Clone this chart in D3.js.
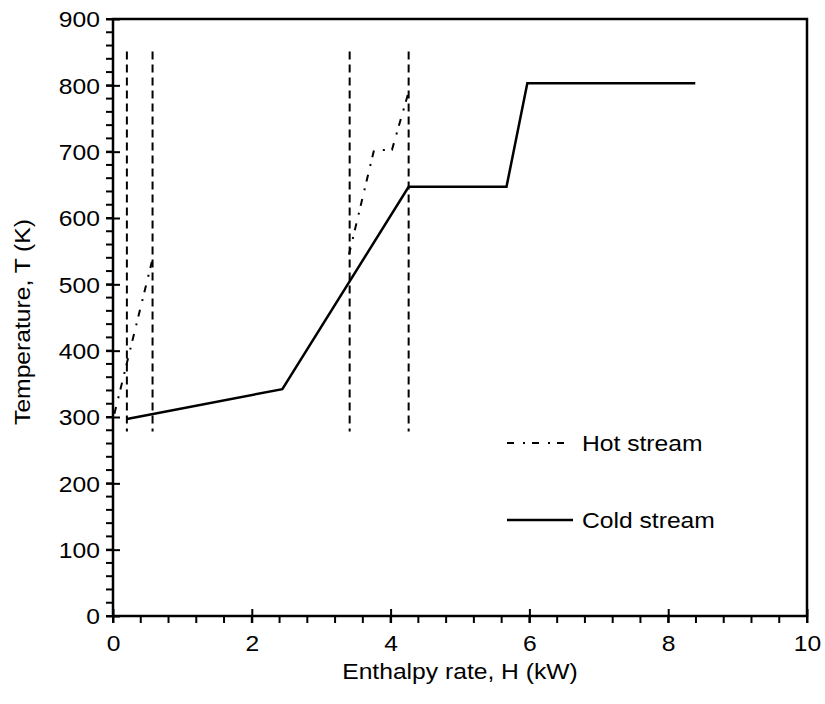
<!DOCTYPE html>
<html>
<head>
<meta charset="utf-8">
<script src="https://cdn.jsdelivr.net/npm/d3@7"></script>
<style>
  body { margin: 0; background: #fff; }
  svg { display: block; font-family: "Liberation Sans", Arial, sans-serif; }
</style>
</head>
<body>
<svg id="chart" width="825" height="704"></svg>
<script>
// ---- Data ----
const xTicks = [0, 2, 4, 6, 8, 10];
const yTicks = [0, 100, 200, 300, 400, 500, 600, 700, 800, 900];
const xLabel = "Enthalpy rate, H (kW)";
const yLabel = "Temperature, T (K)";

// Hot stream composite (two separate pieces)
const hotSeg1H = [0.02, 0.56];
const hotSeg1T = [305, 534];
const hotSeg2H = [3.40, 3.76, 4.02, 4.26];
const hotSeg2T = [545, 702, 703, 790];

// Cold stream composite
const coldH = [0.2, 2.44, 4.26, 5.67, 5.97, 8.39];
const coldT = [297, 342, 647, 647, 803, 803];

// Pinch / boundary verticals
const vlineH = [0.2, 0.57, 3.41, 4.26];
const vlineTop = 851;
const vlineBottom = 278;

const legendNames = ["Hot stream", "Cold stream"];

// ---- Layout ----
const svg = d3.select("#chart");
const mLeft = 113, mRight = 807, mTop = 19, mBottom = 616;
const FS = 22;      // font size
const STRETCH = 1.12;

const x = d3.scaleLinear().domain([0, 10]).range([mLeft, mRight]);
const y = d3.scaleLinear().domain([0, 900]).range([mBottom, mTop]);

const g = svg.append("g");

function stretch(sel) {
  sel.each(function () {
    const w = this.getComputedTextLength();
    d3.select(this).attr("textLength", w * STRETCH).attr("lengthAdjust", "spacingAndGlyphs");
  });
}

// minor ticks
const xMinor = d3.range(0, 10.0001, 0.4);
const yMinor = d3.range(0, 900.001, 20);

g.selectAll(".xminor").data(xMinor).enter().append("line")
  .attr("x1", d => x(d)).attr("x2", d => x(d))
  .attr("y1", mBottom).attr("y2", mBottom + 7)
  .attr("stroke", "#000").attr("stroke-width", 2);
g.selectAll(".yminor").data(yMinor).enter().append("line")
  .attr("x1", mLeft - 7).attr("x2", mLeft)
  .attr("y1", d => y(d)).attr("y2", d => y(d))
  .attr("stroke", "#000").attr("stroke-width", 2);

// major ticks via axes (crossing)
const xAxis = d3.axisBottom(x).tickValues(xTicks).tickSize(0).tickFormat(d3.format("d"));
const xa = g.append("g").attr("transform", `translate(0,${mBottom})`).call(xAxis);
xa.select(".domain").remove();
xa.selectAll("text").attr("font-size", FS).attr("font-family", "Liberation Sans, Arial, sans-serif")
  .attr("fill", "#000").attr("dy", null).attr("y", 35).call(stretch);
xa.selectAll(".tick").append("line").attr("y1", -7).attr("y2", 7).attr("stroke", "#000").attr("stroke-width", 2);

const yAxis = d3.axisLeft(y).tickValues(yTicks).tickSize(0).tickFormat(d3.format("d"));
const ya = g.append("g").attr("transform", `translate(${mLeft},0)`).call(yAxis);
ya.select(".domain").remove();
ya.selectAll("text").attr("font-size", FS).attr("font-family", "Liberation Sans, Arial, sans-serif")
  .attr("fill", "#000").attr("x", -13).attr("dy", "0.35em").call(stretch);
ya.selectAll(".tick").append("line").attr("x1", -7).attr("x2", 7).attr("stroke", "#000").attr("stroke-width", 2);

// frame
g.append("rect").attr("x", mLeft).attr("y", mTop).attr("width", mRight - mLeft).attr("height", mBottom - mTop)
  .attr("fill", "none").attr("stroke", "#000").attr("stroke-width", 2.5);

// vertical dashed lines
g.selectAll(".vline").data(vlineH).enter().append("line")
  .attr("x1", d => x(d)).attr("x2", d => x(d))
  .attr("y1", y(vlineTop)).attr("y2", y(vlineBottom))
  .attr("stroke", "#000").attr("stroke-width", 2).attr("stroke-dasharray", "8,5");

const line = d3.line().x(d => x(d[0])).y(d => y(d[1]));
const hotDash = "7,9,2,7";

// hot stream
[[hotSeg1H, hotSeg1T], [hotSeg2H, hotSeg2T]].forEach(([hs, ts]) => {
  g.append("path").datum(hs.map((h, i) => [h, ts[i]]))
    .attr("d", line).attr("fill", "none").attr("stroke", "#000")
    .attr("stroke-width", 2).attr("stroke-dasharray", hotDash);
});

// cold stream
g.append("path").datum(coldH.map((h, i) => [h, coldT[i]]))
  .attr("d", line).attr("fill", "none").attr("stroke", "#000")
  .attr("stroke-width", 2.5).attr("stroke-linejoin", "miter");

// legend
const leg = [
  { name: legendNames[0], dash: hotDash, w: 2, yy: 443 },
  { name: legendNames[1], dash: null, w: 2.5, yy: 520 }
];
leg.forEach(l => {
  g.append("line").attr("x1", 507).attr("x2", 573).attr("y1", l.yy).attr("y2", l.yy)
    .attr("stroke", "#000").attr("stroke-width", l.w).attr("stroke-dasharray", l.dash);
  g.append("text").attr("x", 582).attr("y", l.yy).attr("dy", "0.35em")
    .attr("font-size", FS).attr("fill", "#000").text(l.name).call(stretch);
});

// axis titles
g.append("text").attr("x", 460).attr("y", 679).attr("text-anchor", "middle")
  .attr("font-size", FS).attr("fill", "#000").text(xLabel).call(stretch);
g.append("text").attr("transform", `translate(30,322) rotate(-90)`)
  .attr("text-anchor", "middle").attr("font-size", FS).attr("fill", "#000").text(yLabel).call(stretch);
</script>
</body>
</html>
